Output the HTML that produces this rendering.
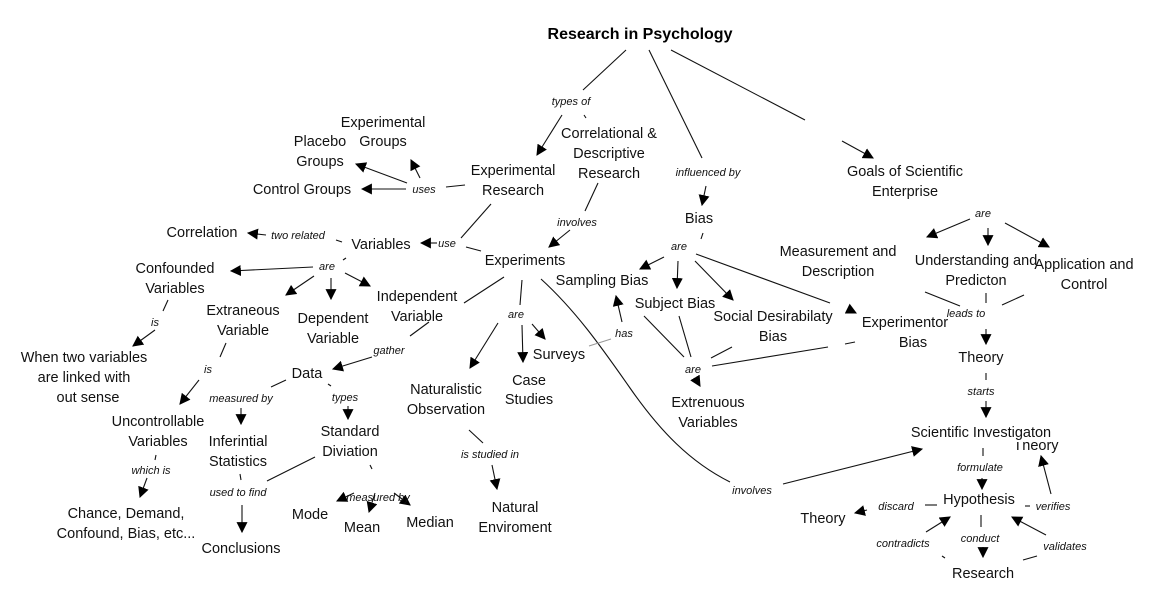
<!DOCTYPE html>
<html><head><meta charset="utf-8"><style>
html,body{margin:0;padding:0;background:#fff;}
svg{display:block;}
.n{font-family:"Liberation Sans",Arial,sans-serif;font-size:14.5px;fill:#111;text-anchor:middle;}
.l{font-family:"Liberation Sans",Arial,sans-serif;font-size:11px;font-style:italic;fill:#111;text-anchor:middle;}
line,path{stroke:#111;stroke-width:1.1;fill:none;}
</style></head><body>
<svg width="1169" height="604" viewBox="0 0 1169 604" xmlns="http://www.w3.org/2000/svg">
<defs><marker id="a" viewBox="0 0 10 10" refX="9" refY="5" markerWidth="11" markerHeight="11" markerUnits="userSpaceOnUse" orient="auto"><path d="M0,0 L10,5 L0,10 z" style="fill:#000;stroke:none"/></marker></defs>
<g>
<!-- title -->
<line x1="626" y1="50" x2="583" y2="90"/><line x1="562" y1="115" x2="537" y2="155" marker-end="url(#a)"/>
<line x1="584" y1="115" x2="586" y2="118"/>
<line x1="649" y1="50" x2="702" y2="158"/><line x1="706" y1="186" x2="702" y2="205" marker-end="url(#a)"/>
<line x1="671" y1="50" x2="805" y2="120"/><line x1="842" y1="141" x2="873" y2="158" marker-end="url(#a)"/>
<!-- experimental research -->
<line x1="465" y1="185" x2="446" y2="187"/>
<line x1="407" y1="183" x2="356" y2="164" marker-end="url(#a)"/>
<line x1="420" y1="178" x2="411" y2="160" marker-end="url(#a)"/>
<line x1="406" y1="189" x2="362" y2="189" marker-end="url(#a)"/>
<line x1="491" y1="204" x2="461" y2="238"/><line x1="437" y1="243" x2="421" y2="243" marker-end="url(#a)"/>
<line x1="598" y1="183" x2="585" y2="211"/><line x1="570" y1="230" x2="549" y2="247" marker-end="url(#a)"/>
<line x1="481" y1="251" x2="466" y2="247"/>
<!-- variables -->
<line x1="342" y1="242" x2="336" y2="240"/><line x1="266" y1="235" x2="248" y2="233" marker-end="url(#a)"/>
<line x1="346" y1="258" x2="343" y2="260"/>
<line x1="313" y1="267" x2="231" y2="271" marker-end="url(#a)"/>
<line x1="314" y1="276" x2="286" y2="295" marker-end="url(#a)"/>
<line x1="331" y1="278" x2="331" y2="299" marker-end="url(#a)"/>
<line x1="345" y1="273" x2="370" y2="286" marker-end="url(#a)"/>
<line x1="168" y1="300" x2="163" y2="311"/><line x1="155" y1="330" x2="133" y2="346" marker-end="url(#a)"/>
<line x1="226" y1="343" x2="220" y2="357"/><line x1="199" y1="380" x2="180" y2="404" marker-end="url(#a)"/>
<line x1="156" y1="455" x2="155" y2="460"/><line x1="147" y1="478" x2="140" y2="497" marker-end="url(#a)"/>
<line x1="429" y1="322" x2="410" y2="336"/><line x1="372" y1="357" x2="333" y2="369" marker-end="url(#a)"/>
<line x1="286" y1="380" x2="271" y2="387"/><line x1="241" y1="408" x2="241" y2="424" marker-end="url(#a)"/>
<line x1="328" y1="384" x2="331" y2="386"/><line x1="348" y1="406" x2="348" y2="419" marker-end="url(#a)"/>
<line x1="240" y1="474" x2="241" y2="480"/><line x1="242" y1="505" x2="242" y2="532" marker-end="url(#a)"/>
<line x1="315" y1="457" x2="267" y2="481"/>
<line x1="370" y1="465" x2="372" y2="469"/>
<line x1="354" y1="493" x2="337" y2="501" marker-end="url(#a)"/>
<line x1="375" y1="493" x2="369" y2="512" marker-end="url(#a)"/>
<line x1="394" y1="493" x2="410" y2="505" marker-end="url(#a)"/>
<!-- experiments -->
<line x1="504" y1="277" x2="464" y2="303"/>
<line x1="522" y1="280" x2="520" y2="305"/>
<line x1="498" y1="323" x2="470" y2="368" marker-end="url(#a)"/>
<line x1="522" y1="325" x2="523" y2="362" marker-end="url(#a)"/>
<line x1="532" y1="324" x2="545" y2="339" marker-end="url(#a)"/>
<path d="M541,279 C 575,310 600,345 630,388 S 690,462 730,482"/>
<line x1="589" y1="346" x2="611" y2="339" style="stroke:#999"/>
<line x1="622" y1="322" x2="616" y2="296" marker-end="url(#a)"/>
<line x1="469" y1="430" x2="483" y2="443"/><line x1="492" y1="465" x2="497" y2="489" marker-end="url(#a)"/>
<!-- bias -->
<line x1="703" y1="233" x2="701" y2="239"/>
<line x1="664" y1="257" x2="640" y2="269" marker-end="url(#a)"/>
<line x1="678" y1="261" x2="677" y2="288" marker-end="url(#a)"/>
<line x1="695" y1="261" x2="733" y2="300" marker-end="url(#a)"/>
<line x1="696" y1="254" x2="830" y2="303"/><line x1="848" y1="309" x2="856" y2="313" marker-end="url(#a)"/>
<line x1="644" y1="316" x2="684" y2="357"/>
<line x1="679" y1="316" x2="691" y2="357"/>
<line x1="711" y1="358" x2="732" y2="347"/>
<line x1="712" y1="366" x2="828" y2="347"/><line x1="845" y1="344" x2="855" y2="342"/>
<line x1="697" y1="381" x2="700" y2="386" marker-end="url(#a)"/>
<!-- goals -->
<line x1="970" y1="219" x2="927" y2="237" marker-end="url(#a)"/>
<line x1="988" y1="228" x2="988" y2="245" marker-end="url(#a)"/>
<line x1="1005" y1="223" x2="1049" y2="247" marker-end="url(#a)"/>
<line x1="925" y1="292" x2="960" y2="306"/>
<line x1="986" y1="293" x2="986" y2="303"/>
<line x1="1024" y1="295" x2="1002" y2="305"/>
<line x1="986" y1="329" x2="986" y2="344" marker-end="url(#a)"/>
<line x1="986" y1="373" x2="986" y2="380"/><line x1="986" y1="401" x2="986" y2="417" marker-end="url(#a)"/>
<line x1="783" y1="484" x2="922" y2="449" marker-end="url(#a)"/>
<line x1="983" y1="448" x2="983" y2="456"/><line x1="982" y1="478" x2="982" y2="489" marker-end="url(#a)"/>
<line x1="937" y1="505" x2="925" y2="505"/><line x1="867" y1="510" x2="855" y2="513" marker-end="url(#a)"/>
<line x1="1025" y1="506" x2="1030" y2="506"/><line x1="1051" y1="494" x2="1041" y2="456" marker-end="url(#a)"/>
<line x1="981" y1="515" x2="981" y2="527"/><line x1="983" y1="547" x2="983" y2="557" marker-end="url(#a)"/>
<line x1="942" y1="556" x2="945" y2="558"/><line x1="926" y1="532" x2="950" y2="517" marker-end="url(#a)"/>
<line x1="1023" y1="560" x2="1037" y2="556"/><line x1="1046" y1="535" x2="1012" y2="517" marker-end="url(#a)"/>
</g>
<!-- hidden theory -->
<text class="n" x="1036" y="450">Theory</text>
<rect x="905" y="420" width="160" height="22" fill="#fff"/>
<!-- nodes -->
<text x="640" y="39" style="font-family:'Liberation Sans',Arial,sans-serif;font-size:16px;font-weight:bold;text-anchor:middle;fill:#000">Research in Psychology</text>
<text class="l" x="571" y="105">types of</text>
<text class="n" x="609" y="138">Correlational &amp;</text>
<text class="n" x="609" y="158">Descriptive</text>
<text class="n" x="609" y="178">Research</text>
<text class="n" x="513" y="175">Experimental</text>
<text class="n" x="513" y="195">Research</text>
<text class="n" x="383" y="127">Experimental</text>
<text class="n" x="383" y="146">Groups</text>
<text class="n" x="320" y="146">Placebo</text>
<text class="n" x="320" y="166">Groups</text>
<rect x="346" y="133" width="8" height="16" fill="#fff"/>
<text class="n" x="302" y="194">Control Groups</text>
<text class="l" x="424" y="193">uses</text>
<text class="n" x="202" y="237">Correlation</text>
<text class="l" x="298" y="239">two related</text>
<text class="n" x="381" y="249">Variables</text>
<text class="l" x="447" y="247">use</text>
<text class="n" x="525" y="265">Experiments</text>
<text class="l" x="577" y="226">involves</text>
<text class="l" x="708" y="176">influenced by</text>
<text class="n" x="699" y="223">Bias</text>
<text class="l" x="679" y="250">are</text>
<text class="n" x="602" y="285">Sampling Bias</text>
<text class="n" x="675" y="308">Subject Bias</text>
<text class="n" x="773" y="321">Social Desirabilaty</text>
<text class="n" x="773" y="341">Bias</text>
<text class="n" x="905" y="327">Experimentor</text>
<text class="n" x="913" y="347">Bias</text>
<text class="l" x="693" y="373">are</text>
<text class="n" x="708" y="407">Extrenuous</text>
<text class="n" x="708" y="427">Variables</text>
<text class="l" x="624" y="337">has</text>
<text class="n" x="559" y="359">Surveys</text>
<text class="n" x="529" y="385">Case</text>
<text class="n" x="529" y="404">Studies</text>
<text class="l" x="516" y="318">are</text>
<text class="n" x="446" y="394">Naturalistic</text>
<text class="n" x="446" y="414">Observation</text>
<text class="l" x="490" y="458">is studied in</text>
<text class="n" x="515" y="512">Natural</text>
<text class="n" x="515" y="532">Enviroment</text>
<text class="n" x="905" y="176">Goals of Scientific</text>
<text class="n" x="905" y="196">Enterprise</text>
<text class="l" x="983" y="217">are</text>
<text class="n" x="838" y="256">Measurement and</text>
<text class="n" x="838" y="276">Description</text>
<text class="n" x="976" y="265">Understanding and</text>
<text class="n" x="976" y="285">Predicton</text>
<text class="n" x="1084" y="269">Application and</text>
<text class="n" x="1084" y="289">Control</text>
<text class="l" x="966" y="317">leads to</text>
<text class="n" x="981" y="362">Theory</text>
<text class="l" x="981" y="395">starts</text>
<text class="n" x="981" y="437">Scientific Investigaton</text>
<text class="l" x="980" y="471">formulate</text>
<text class="n" x="979" y="504">Hypothesis</text>
<text class="l" x="896" y="510">discard</text>
<text class="n" x="823" y="523">Theory</text>
<text class="l" x="1053" y="510">verifies</text>
<text class="l" x="980" y="542">conduct</text>
<text class="l" x="903" y="547">contradicts</text>
<text class="l" x="1065" y="550">validates</text>
<text class="n" x="983" y="578">Research</text>
<text class="l" x="752" y="494">involves</text>
<text class="l" x="327" y="270">are</text>
<text class="n" x="175" y="273">Confounded</text>
<text class="n" x="175" y="293">Variables</text>
<text class="n" x="243" y="315">Extraneous</text>
<text class="n" x="243" y="335">Variable</text>
<text class="n" x="333" y="323">Dependent</text>
<text class="n" x="333" y="343">Variable</text>
<text class="n" x="417" y="301">Independent</text>
<text class="n" x="417" y="321">Variable</text>
<text class="l" x="155" y="326">is</text>
<text class="n" x="84" y="362">When two variables</text>
<text class="n" x="84" y="382">are linked with</text>
<text class="n" x="88" y="402">out sense</text>
<text class="l" x="208" y="373">is</text>
<text class="n" x="158" y="426">Uncontrollable</text>
<text class="n" x="158" y="446">Variables</text>
<text class="l" x="151" y="474">which is</text>
<text class="n" x="126" y="518">Chance, Demand,</text>
<text class="n" x="126" y="538">Confound, Bias, etc...</text>
<text class="n" x="307" y="378">Data</text>
<text class="l" x="389" y="354">gather</text>
<text class="l" x="241" y="402">measured by</text>
<text class="l" x="345" y="401">types</text>
<text class="n" x="238" y="446">Inferintial</text>
<text class="n" x="238" y="466">Statistics</text>
<text class="n" x="350" y="436">Standard</text>
<text class="n" x="350" y="456">Diviation</text>
<text class="l" x="238" y="496">used to find</text>
<text class="n" x="241" y="553">Conclusions</text>
<text class="l" x="378" y="501">measured by</text>
<text class="n" x="310" y="519">Mode</text>
<text class="n" x="362" y="532">Mean</text>
<text class="n" x="430" y="527">Median</text>
</svg>
</body></html>
